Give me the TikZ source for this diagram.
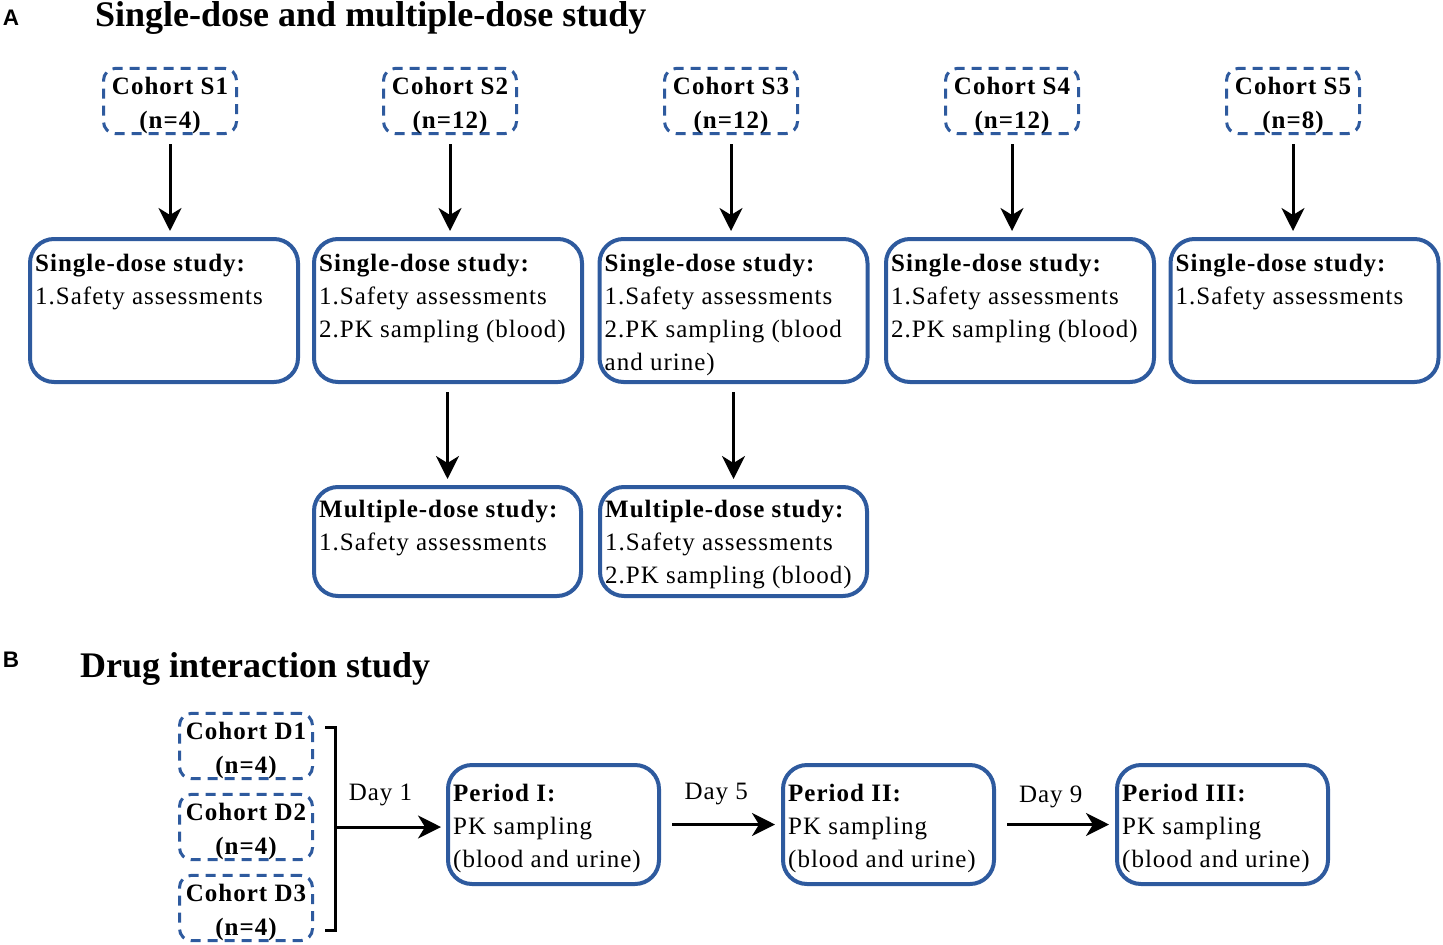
\documentclass[tikz,border=0pt]{standalone}
\usepackage{fontspec}
\setmainfont{Liberation Serif}
\newfontfamily\bxfont{Liberation Serif}[LetterSpace=4]
\newfontfamily\lblfont{Liberation Sans}
\usetikzlibrary{arrows.meta}
\definecolor{bxblue}{RGB}{46,90,158}
\newcommand\hstrut{\rule{0pt}{26pt}}
\begin{document}
\begin{tikzpicture}[x=1pt,y=-1pt,
 cohort/.style={draw=bxblue, line width=3pt, dash pattern=on 10pt off 7pt, rounded corners=12pt, minimum width=133pt, minimum height=63pt, inner sep=0pt, align=center, font=\bxfont\bfseries\fontsize{25}{34}\selectfont},
 stbox/.style={draw=bxblue, line width=4pt, rounded corners=24pt, minimum width=268pt, minimum height=143pt, inner sep=0pt},
 mbox/.style={stbox, minimum width=267pt, minimum height=109pt},
 pbox/.style={stbox, minimum width=211pt, minimum height=119pt},
 bxtext/.style={anchor=north west, inner sep=0pt, align=left, xshift=7pt, yshift=-17pt, font=\bxfont\fontsize{25}{33}\selectfont},
 daylab/.style={inner sep=0pt, font=\bxfont\fontsize{25}{33}\selectfont},
 arr/.style={line width=3pt, -{Stealth[length=23pt,width=23pt,inset=7pt]}},
 ttl/.style={font=\bfseries\fontsize{36}{40}\selectfont, anchor=base west, inner sep=0pt},
 lbl/.style={font=\lblfont\bfseries\fontsize{22.5}{26}\selectfont, inner sep=0pt}
]
\useasboundingbox (0,0) rectangle (1443,945);

% ---------- Part A ----------
\node[lbl] (labA) at (11,18) {A};
\node[ttl] (ttlA) at (95,26) {Single-dose and multiple-dose study};

\node[cohort] (c1) at (170,101) {\hstrut Cohort S1\\(n=4)};
\node[cohort] (c2) at (450,101) {\hstrut Cohort S2\\(n=12)};
\node[cohort] (c3) at (731,101) {\hstrut Cohort S3\\(n=12)};
\node[cohort] (c4) at (1012,101) {\hstrut Cohort S4\\(n=12)};
\node[cohort] (c5) at (1293,101) {\hstrut Cohort S5\\(n=8)};

\node[stbox] (s1) at (164,310.5) {};
\node[stbox] (s2) at (448,310.5) {};
\node[stbox] (s3) at (733.5,310.5) {};
\node[stbox] (s4) at (1020,310.5) {};
\node[stbox] (s5) at (1304.5,310.5) {};

\node[bxtext] (t1) at (s1.north west) {\textbf{Single-dose study:}\\1.Safety assessments};
\node[bxtext] (t2) at (s2.north west) {\textbf{Single-dose study:}\\1.Safety assessments\\2.PK sampling (blood)};
\node[bxtext] (t3) at (s3.north west) {\textbf{Single-dose study:}\\1.Safety assessments\\2.PK sampling (blood\\and urine)};
\node[bxtext] (t4) at (s4.north west) {\textbf{Single-dose study:}\\1.Safety assessments\\2.PK sampling (blood)};
\node[bxtext] (t5) at (s5.north west) {\textbf{Single-dose study:}\\1.Safety assessments};

\node[mbox] (m2) at (447.5,541.5) {};
\node[mbox] (m3) at (733.5,541.5) {};
\node[bxtext, yshift=2pt] (tm2) at (m2.north west) {\textbf{Multiple-dose study:}\\1.Safety assessments};
\node[bxtext, yshift=2pt] (tm3) at (m3.north west) {\textbf{Multiple-dose study:}\\1.Safety assessments\\2.PK sampling (blood)};

\foreach \i in {1,...,5}{
  \draw[arr, shorten <=9pt, shorten >=6pt] (c\i.south) -- (c\i.south |- s\i.north);
}
\draw[arr, shorten <=8pt, shorten >=6pt] (m2.north |- s2.south) -- (m2.north);
\draw[arr, shorten <=8pt, shorten >=6pt] (m3.north |- s3.south) -- (m3.north);

% ---------- Part B ----------
\node[lbl] (labB) at (11,660) {B};
\node[ttl] (ttlB) at (80,677) {Drug interaction study};

\node[cohort, minimum height=61pt] (d1) at (246,746) {\hstrut Cohort D1\\(n=4)};
\node[cohort, minimum height=61pt] (d2) at (246,827) {\hstrut Cohort D2\\(n=4)};
\node[cohort, minimum height=61pt] (d3) at (246,908) {\hstrut Cohort D3\\(n=4)};

\coordinate (bt0) at (325,727);
\coordinate (bt1) at (335,727);
\coordinate (bb1) at (335,930);
\coordinate (bb0) at (325,930);
\coordinate (bm) at (335,827);
\draw[line width=3pt] (bt0) -- (bt1) -- (bb1) -- (bb0);

\node[pbox] (p1) at (553.5,824.5) {};
\node[pbox] (p2) at (888.5,824.5) {};
\node[pbox] (p3) at (1222.5,824.5) {};
\node[bxtext, yshift=-4pt] (tp1) at (p1.north west) {\textbf{Period I:}\\PK sampling\\(blood and urine)};
\node[bxtext, yshift=-4pt] (tp2) at (p2.north west) {\textbf{Period II:}\\PK sampling\\(blood and urine)};
\node[bxtext, yshift=-4pt] (tp3) at (p3.north west) {\textbf{Period III:}\\PK sampling\\(blood and urine)};

\draw[arr, shorten >=5pt] (bm) -- node[daylab, pos=0.41, yshift=32pt] (day1) {Day 1} (bm -| p1.west);
\draw[arr, shorten <=11pt, shorten >=6pt] (p1.east) -- node[daylab, pos=0.46, yshift=30pt] (day5) {Day 5} (p2.west);
\draw[arr, shorten <=11pt, shorten >=6pt] (p2.east) -- node[daylab, pos=0.46, yshift=28pt] (day9) {Day 9} (p3.west);
\end{tikzpicture}
\end{document}
